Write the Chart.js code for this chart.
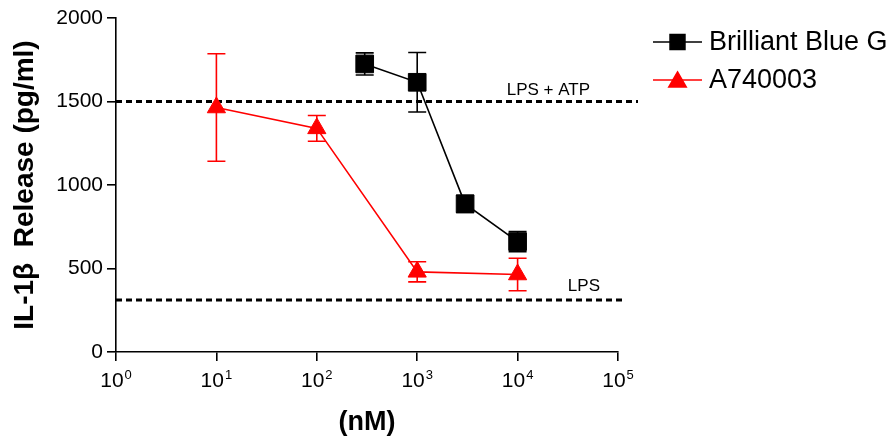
<!DOCTYPE html>
<html>
<head>
<meta charset="utf-8">
<script src="https://cdn.jsdelivr.net/npm/chart.js@4.4.1/dist/chart.umd.min.js"></script>
<style>
  body { margin: 0; background: #fff; }
  canvas { display: block; }
</style>
</head>
<body>
<canvas id="myChart" width="890" height="439"></canvas>
<script>
const FONT = "'Liberation Sans', Arial, Helvetica, sans-serif";
const COLOUR_BBG = '#000000';
const COLOUR_A740 = '#ff0000';

// Brilliant Blue G (nM), mean IL-1b and error
const bbgDose = [300, 1000, 3000, 10000];
const bbgMean = [1725, 1615, 887, 661];
const bbgErr = [66, 178, 52, 60];

// A740003 (nM)
const a740Dose = [10, 100, 1000, 10000];
const a740Mean = [1464, 1339, 480, 464];
const a740Err = [322, 77, 60, 97];

// control levels
const refLevels = [1500, 312];
const refLabels = ['LPS + ATP', 'LPS'];

const xTicks = [1, 10, 100, 1000, 10000, 100000];
const yTicks = [0, 500, 1000, 1500, 2000];

// how far each dashed line runs past the axis end, and where its label sits
const refOverhang = [20, 8];
const refLabelRight = [28, 18];
const refLabelLift = [7, 9];

const toPoints = (xs, ys) => xs.map((v, i) => ({ x: v, y: ys[i] }));

const refLines = {
    id: 'refLines',
    beforeDatasetsDraw(chart) {
        const { ctx, chartArea, scales: { y } } = chart;
        ctx.save();
        refLevels.forEach((lvl, i) => {
            const py = y.getPixelForValue(lvl);
            ctx.strokeStyle = '#000';
            ctx.lineWidth = 3;
            ctx.setLineDash([6, 4]);
            ctx.beginPath();
            ctx.moveTo(chartArea.left, py);
            ctx.lineTo(chartArea.right + refOverhang[i], py);
            ctx.stroke();
            ctx.setLineDash([]);
            ctx.fillStyle = '#000';
            ctx.font = '17px ' + FONT;
            ctx.textAlign = 'right';
            ctx.textBaseline = 'alphabetic';
            ctx.fillText(refLabels[i], chartArea.right - refLabelRight[i], py - refLabelLift[i]);
        });
        ctx.restore();
    }
};

const errorBars = {
    id: 'errorBars',
    beforeDatasetsDraw(chart) {
        const { ctx, scales: { x, y } } = chart;
        chart.data.datasets.forEach((ds) => {
            if (!ds.errors) return;
            ctx.save();
            ctx.strokeStyle = ds.borderColor;
            ctx.lineWidth = 1.6;
            ds.data.forEach((p, j) => {
                const px = x.getPixelForValue(p.x);
                const top = y.getPixelForValue(p.y + ds.errors[j]);
                const bot = y.getPixelForValue(p.y - ds.errors[j]);
                ctx.beginPath();
                ctx.moveTo(px, top); ctx.lineTo(px, bot);
                ctx.moveTo(px - 9, top); ctx.lineTo(px + 9, top);
                ctx.moveTo(px - 9, bot); ctx.lineTo(px + 9, bot);
                ctx.stroke();
            });
            ctx.restore();
        });
    }
};

// 10 with a raised exponent under each decade tick
const powerLabels = {
    id: 'powerLabels',
    afterDraw(chart) {
        const { ctx, scales: { x } } = chart;
        ctx.save();
        ctx.fillStyle = '#000';
        ctx.textBaseline = 'alphabetic';
        ctx.textAlign = 'left';
        xTicks.forEach((v) => {
            const px = x.getPixelForValue(v);
            const exp = String(Math.round(Math.log10(v)));
            ctx.font = '21px ' + FONT;
            const wBase = ctx.measureText('10').width;
            ctx.font = '13px ' + FONT;
            const wExp = ctx.measureText(exp).width;
            const start = px - (wBase + 1 + wExp) / 2;
            ctx.font = '21px ' + FONT;
            ctx.fillText('10', start, 387);
            ctx.font = '13px ' + FONT;
            ctx.fillText(exp, start + wBase + 1, 379);
        });
        ctx.restore();
    }
};

const sideLegend = {
    id: 'sideLegend',
    afterDraw(chart) {
        const { ctx, chartArea } = chart;
        const x0 = chartArea.right + 35;
        ctx.save();
        chart.data.datasets.forEach((ds, i) => {
            const yy = 42 + i * 38;
            ctx.strokeStyle = ds.borderColor;
            ctx.lineWidth = 1.6;
            ctx.beginPath();
            ctx.moveTo(x0, yy); ctx.lineTo(x0 + 49, yy);
            ctx.stroke();
            ctx.fillStyle = ds.backgroundColor;
            Chart.helpers.drawPoint(ctx, {
                pointStyle: ds.pointStyle,
                radius: ds.pointStyle === 'rect' ? 10.5 : 10,
                borderWidth: 1
            }, x0 + 24.5, ds.pointStyle === 'rect' ? yy : yy + 2);
            ctx.fillStyle = '#000';
            ctx.font = '27px ' + FONT;
            ctx.textAlign = 'left';
            ctx.textBaseline = 'middle';
            ctx.fillText(ds.label, x0 + 56, yy + 1);
        });
        ctx.restore();
    }
};

const ctx = document.getElementById('myChart');
const myChart = new Chart(ctx, {
    type: 'line',
    data: {
        datasets: [{
            label: 'Brilliant Blue G',
            data: toPoints(bbgDose, bbgMean),
            errors: bbgErr,
            borderColor: COLOUR_BBG,
            backgroundColor: COLOUR_BBG,
            borderWidth: 1.6,
            pointStyle: 'rect',
            pointRadius: 12.5,
            pointBorderWidth: 1
        }, {
            label: 'A740003',
            data: toPoints(a740Dose, a740Mean),
            errors: a740Err,
            borderColor: COLOUR_A740,
            backgroundColor: COLOUR_A740,
            borderWidth: 1.6,
            pointStyle: 'triangle',
            pointRadius: 10.5,
            pointBorderWidth: 1
        }]
    },
    options: {
        responsive: false,
        animation: false,
        devicePixelRatio: 1,
        layout: { padding: { left: 0, right: 272, top: 18, bottom: 0 } },
        plugins: {
            legend: { display: false },
            tooltip: { enabled: false }
        },
        scales: {
            x: {
                type: 'logarithmic',
                min: 1,
                max: 100000,
                afterBuildTicks: (scale) => { scale.ticks = xTicks.map((v) => ({ value: v })); },
                afterFit: (scale) => { scale.height = 87; },
                border: { color: '#000', width: 1.6 },
                grid: { drawOnChartArea: false, drawTicks: true, tickLength: 9, color: '#000', lineWidth: 1.6 },
                ticks: { display: false },
                title: {
                    display: true,
                    text: '(nM)',
                    color: '#000',
                    font: { family: FONT, size: 27, weight: 'bold' },
                    padding: { top: 0, bottom: 0 }
                }
            },
            y: {
                min: 0,
                max: 2000,
                afterBuildTicks: (scale) => { scale.ticks = yTicks.map((v) => ({ value: v })); },
                afterFit: (scale) => { scale.width = 116; },
                border: { color: '#000', width: 1.6 },
                grid: { drawOnChartArea: false, drawTicks: true, tickLength: 9, color: '#000', lineWidth: 1.6 },
                ticks: {
                    color: '#000',
                    padding: 4,
                    font: { family: FONT, size: 21 },
                    callback: (v) => String(v)
                },
                title: {
                    display: true,
                    text: 'IL-1β  Release (pg/ml)',
                    color: '#000',
                    font: { family: FONT, size: 28, weight: 'bold' },
                    padding: { top: 8, bottom: 0 }
                }
            }
        }
    },
    plugins: [refLines, errorBars, powerLabels, sideLegend]
});
</script>
</body>
</html>
